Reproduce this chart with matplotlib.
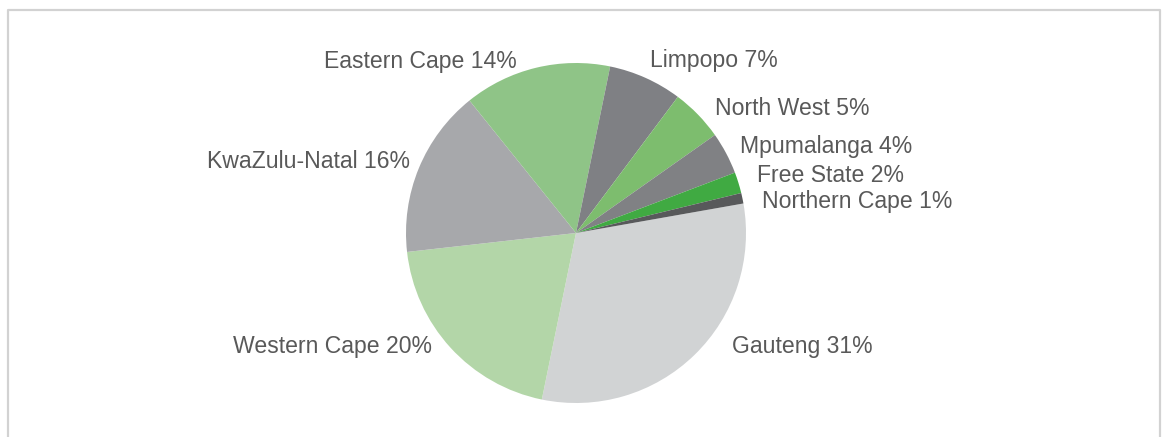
import matplotlib
matplotlib.use("Agg")
import matplotlib.pyplot as plt
from matplotlib.lines import Line2D

OUTPUT_IMAGE = "out.png"

provinces = ["Gauteng", "Western Cape", "KwaZulu-Natal", "Eastern Cape", "Limpopo",
             "North West", "Mpumalanga", "Free State", "Northern Cape"]
shares = [31, 20, 16, 14, 7, 5, 4, 2, 1]
colors = ["#d1d3d4", "#b3d6a8", "#a7a8ab", "#8fc487", "#7f8084",
          "#7dbd6e", "#808184", "#40aa42", "#58595b"]

# label anchors (in pie-radius units) and alignment
label_pos = [(0.92, -0.706), (-0.85, -0.706), (-0.976, 0.382), (-0.347, 0.97),
             (0.435, 0.976), (0.818, 0.694), (0.965, 0.47), (1.065, 0.30), (1.094, 0.147)]
label_ha = ["left", "right", "right", "right", "left", "left", "left", "left", "left"]


def main():
    plt.rcParams["font.family"] = ["Liberation Sans", "DejaVu Sans"]
    W, H = 1164, 437
    fig = plt.figure(figsize=(W / 100, H / 100), dpi=100)

    # frame around the chart (open at the bottom)
    fx0, fx1, fy1 = 8 / W, 1160 / W, 1 - 10 / H
    fig.add_artist(Line2D([fx0, fx0, fx1, fx1], [-0.1, fy1, fy1, -0.1],
                          transform=fig.transFigure, color="#d2d2d2", lw=1.6))

    cx, cy, r = 576, 233, 170
    ax = fig.add_axes([(cx - r) / W, (H - cy - r) / H, 2 * r / W, 2 * r / H])
    ax.pie(shares, colors=colors, startangle=10, counterclock=False,
           wedgeprops=dict(linewidth=0))
    ax.set_xlim(-1, 1)
    ax.set_ylim(-1, 1)
    ax.set_aspect("equal")
    ax.axis("off")

    for name, val, (x, y), ha in zip(provinces, shares, label_pos, label_ha):
        ax.text(x, y, f"{name} {val}%", ha=ha, va="baseline",
                fontsize=16.6, color="#595959", clip_on=False)

    fig.savefig(OUTPUT_IMAGE, dpi=100)


if __name__ == "__main__":
    main()
